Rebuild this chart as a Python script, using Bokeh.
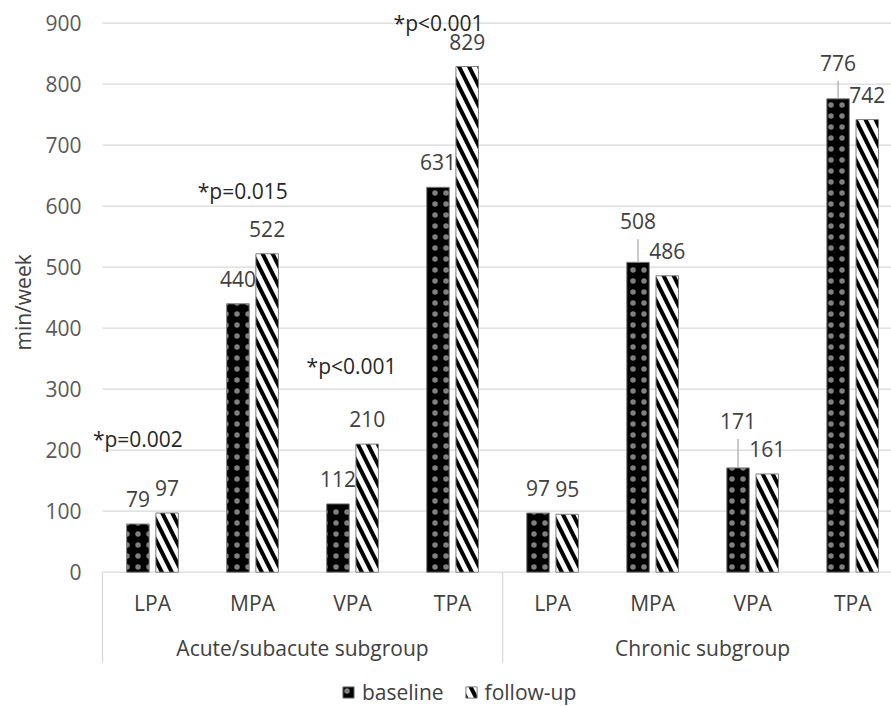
import math
from bokeh.plotting import figure
from bokeh.models import (Range1d, FixedTicker, Legend, LegendItem, Title,
                          ColumnDataSource)
from bokeh.core.properties import value
from bokeh.embed import file_html
from bokeh.resources import INLINE

# ---------------- data ----------------
groups = ["Acute/subacute subgroup", "Chronic subgroup"]
activities = ["LPA", "MPA", "VPA", "TPA"]
series_names = ["baseline", "follow-up"]
baseline = [79, 440, 112, 631, 97, 508, 171, 776]
follow_up = [97, 522, 210, 829, 95, 486, 161, 742]
p_labels = ["*p=0.002", "*p=0.015", "*p<0.001", "*p<0.001"]   # acute subgroup
y_ticks = [0, 100, 200, 300, 400, 500, 600, 700, 800, 900]
y_axis_title = "min/week"

# ---------------- style ----------------
FONT = "Open Sans"
FS = "21px"
W, H = 891, 706
FRAME_LEFT = 85
AXIS_X = 101          # pixel column of the category axis start
PX = 0.61             # pixels per data unit (vertical)
CAT_PX = 100.15       # pixels per category
ZERO_Y = 571.7        # pixel row of value 0
BAR_OFF = 0.146
BAR_W = 0.225
LABEL_GAP = 17
TSHIFT = -8           # correction of the rendered text baseline (px)
base_raise = [0, 0, 0, 0, 0, 16, 22, 11]   # extra lift of some value labels (px)
fu_raise = [0, 0, 0, 0, 0, 0, 0, 0]
LEADER_GAP = 10
p_xoff = [-14.6, -9.8, -1, -14]
p_yoff = [-66.5, -55, -70.3, -35.9]
TEXT = "#404040"
GRID = "#d9d9d9"

n_cat = len(groups) * len(activities)
cat_labels = [a for g in groups for a in activities]
centers = [i + 0.5 for i in range(n_cat)]

x_start = -(AXIS_X - FRAME_LEFT) / CAT_PX
x_end = (W - AXIS_X) / CAT_PX
y_top = ZERO_Y / PX
y_bot = -(H - ZERO_Y) / PX

p = figure(width=W, height=H, output_backend="svg", toolbar_location=None,
           x_range=Range1d(x_start, x_end), y_range=Range1d(y_bot, y_top),
           x_axis_type=None, min_border_left=FRAME_LEFT, min_border_right=0,
           min_border_top=0, min_border_bottom=0)
p.outline_line_color = None
p.background_fill_color = "white"

# y axis (ticks via library ticker; grid lines start at the category axis)
p.yaxis.ticker = FixedTicker(ticks=y_ticks)
p.ygrid.visible = False
p.yaxis.axis_line_color = None
p.yaxis.major_tick_line_color = None
p.yaxis.minor_tick_line_color = None
p.yaxis.major_tick_out = 0
p.yaxis.major_tick_in = 0
p.yaxis.major_label_standoff = 5
p.yaxis.major_label_text_font = FONT
p.yaxis.major_label_text_font_size = FS
p.yaxis.major_label_text_color = "#595959"
p.segment(x0=[0] * len(y_ticks), y0=y_ticks, x1=[x_end] * len(y_ticks), y1=y_ticks,
          line_color=GRID, line_width=1.3)

# y-axis title
p.add_layout(Title(text=y_axis_title, align="left", offset=H - 350,
                   text_font=FONT, text_font_size=FS, text_font_style="normal",
                   text_color=TEXT, standoff=12), "left")

# bars
bx = [c - BAR_OFF for c in centers]
fx = [c + BAR_OFF for c in centers]
src_b = ColumnDataSource(dict(x=bx, top=baseline))
src_f = ColumnDataSource(dict(x=fx, top=follow_up))
r_b = p.vbar(x="x", top="top", bottom=0, width=BAR_W, source=src_b,
             fill_color="black", line_color="#7f7f7f", line_width=1,
             hatch_pattern="dot", hatch_color="white", hatch_alpha=0.5,
             hatch_scale=11, hatch_weight=0.1)
r_f = p.vbar(x="x", top="top", bottom=0, width=BAR_W, source=src_f,
             fill_color="white", line_color="#7f7f7f", line_width=1,
             hatch_pattern="left_diagonal_line", hatch_color="black",
             hatch_scale=20, hatch_weight=4)

# value labels
lx, ly, lt, lo = [], [], [], []
for xs, vals, rs in ((bx, baseline, base_raise), (fx, follow_up, fu_raise)):
    for x, v, r in zip(xs, vals, rs):
        lx.append(x); ly.append(v); lt.append(str(v)); lo.append(-(LABEL_GAP + r) + TSHIFT)
p.text(x="x", y="y", text="t", y_offset="o",
       source=ColumnDataSource(dict(x=lx, y=ly, t=lt, o=lo)),
       text_align="center", text_baseline="alphabetic",
       text_font=value(FONT), text_font_size=FS, text_color=TEXT)

# leader lines
sx, sy0, sy1 = [], [], []
for xs, vals, rs in ((bx, baseline, base_raise), (fx, follow_up, fu_raise)):
    for x, v, r in zip(xs, vals, rs):
        if r > 0:
            sx.append(x); sy0.append(v); sy1.append(v + (LABEL_GAP + r - LEADER_GAP) / PX)
p.segment(x0=sx, y0=sy0, x1=sx, y1=sy1, line_color="#a6a6a6", line_width=1.2)

# p-value annotations
pmax = [max(baseline[i], follow_up[i]) for i in range(len(p_labels))]
p.text(x="x", y="y", text="t", x_offset="xo", y_offset="yo",
       source=ColumnDataSource(dict(x=centers[:len(p_labels)], y=pmax, t=p_labels,
                                    xo=p_xoff, yo=[o + TSHIFT for o in p_yoff])),
       text_align="center", text_baseline="alphabetic",
       text_font=value(FONT), text_font_size=FS, text_color="#262626")

# category axis (drawn inside the frame below zero)
p.text(x=centers, y=[0] * n_cat, text=cat_labels, y_offset=38.3 + TSHIFT,
       text_align="center", text_baseline="alphabetic",
       text_font=value(FONT), text_font_size=FS, text_color=TEXT)
gc = [len(activities) * (g + 0.5) for g in range(len(groups))]
p.text(x=gc, y=[0] * len(groups), text=groups, y_offset=83.3 + TSHIFT,
       text_align="center", text_baseline="alphabetic",
       text_font=value(FONT), text_font_size=FS, text_color=TEXT)
sep_x = [len(activities) * g for g in range(len(groups))]
p.segment(x0=sep_x, y0=[0] * len(sep_x), x1=sep_x, y1=[-(90.3 / PX)] * len(sep_x),
          line_color=GRID, line_width=1.3)

# legend
legend = Legend(items=[LegendItem(label=series_names[0], renderers=[r_b]),
                       LegendItem(label=series_names[1], renderers=[r_f])],
                location=(340 - FRAME_LEFT, 0), orientation="horizontal",
                glyph_width=14, glyph_height=14, label_standoff=7, spacing=20,
                padding=0, margin=0, border_line_color=None,
                background_fill_alpha=0, label_text_font=FONT,
                label_text_font_size=FS, label_text_color=TEXT)
p.add_layout(legend)

open("out.html", "w").write(file_html(p, INLINE))
